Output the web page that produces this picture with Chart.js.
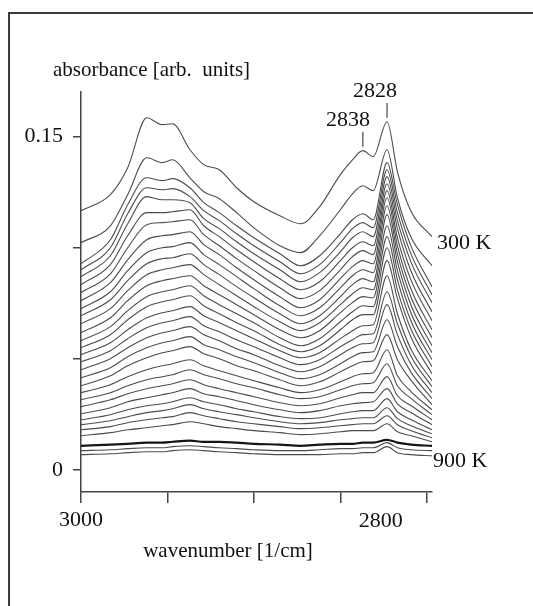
<!DOCTYPE html>
<html lang="en">
<head>
<meta charset="UTF-8">
<title>Absorbance spectra 300 K - 900 K</title>
<script src="https://cdn.jsdelivr.net/npm/chart.js"></script>
<style>
    body {
        margin: 0;
        background: #fff;
    }
    #wrap {
        position: relative;
        width: 533px;
        height: 606px;
    }
    canvas {
        display: block;
    }
</style>
</head>
<body>
<div id="wrap"><canvas id="spectra" width="533" height="606"></canvas></div>

<script>
    // wavenumber sample points [1/cm]
    const wavenumbers = [3000, 2983, 2973, 2962, 2953, 2947, 2937, 2929, 2920, 2910, 2900,
        2885, 2873, 2862, 2850, 2843, 2837, 2831, 2823, 2817, 2809, 2797];

    // absorbance of each spectrum, top (300 K) to bottom (900 K)
    const curve01 = [0.1166, 0.1238, 0.1359, 0.1584, 0.1553, 0.1557, 0.1440, 0.1373, 0.1350, 0.1269, 0.1206, 0.1143, 0.1107, 0.1184, 0.1328, 0.1395, 0.1436, 0.1409, 0.1566, 0.1341, 0.1161, 0.1049];
    const curve02 = [0.1022, 0.1098, 0.1238, 0.1404, 0.1382, 0.1395, 0.1314, 0.1251, 0.1220, 0.1157, 0.1089, 0.1008, 0.0977, 0.1053, 0.1170, 0.1242, 0.1278, 0.1256, 0.1440, 0.1224, 0.1044, 0.0918];
    const curve03 = [0.0927, 0.1035, 0.1193, 0.1314, 0.1301, 0.1310, 0.1269, 0.1202, 0.1157, 0.1098, 0.1044, 0.0972, 0.0918, 0.0963, 0.1062, 0.1125, 0.1152, 0.1125, 0.1382, 0.1193, 0.1004, 0.0824];
    const curve04 = [0.0900, 0.0999, 0.1152, 0.1269, 0.1260, 0.1265, 0.1229, 0.1166, 0.1121, 0.1062, 0.1008, 0.0936, 0.0882, 0.0923, 0.1022, 0.1085, 0.1112, 0.1089, 0.1350, 0.1157, 0.0968, 0.0788];
    const curve05 = [0.0869, 0.0963, 0.1107, 0.1229, 0.1215, 0.1215, 0.1202, 0.1130, 0.1085, 0.1026, 0.0972, 0.0900, 0.0846, 0.0887, 0.0981, 0.1044, 0.1071, 0.1049, 0.1319, 0.1121, 0.0932, 0.0752];
    const curve06 = [0.0833, 0.0923, 0.1053, 0.1157, 0.1157, 0.1161, 0.1170, 0.1098, 0.1049, 0.0990, 0.0936, 0.0860, 0.0810, 0.0846, 0.0941, 0.0999, 0.1026, 0.1008, 0.1287, 0.1085, 0.0891, 0.0711];
    const curve07 = [0.0797, 0.0882, 0.0999, 0.1103, 0.1112, 0.1116, 0.1125, 0.1058, 0.1008, 0.0950, 0.0896, 0.0819, 0.0770, 0.0806, 0.0900, 0.0959, 0.0986, 0.0968, 0.1256, 0.1044, 0.0851, 0.0671];
    const curve08 = [0.0761, 0.0842, 0.0945, 0.1035, 0.1053, 0.1058, 0.1071, 0.1013, 0.0968, 0.0909, 0.0855, 0.0779, 0.0729, 0.0765, 0.0860, 0.0914, 0.0941, 0.0927, 0.1224, 0.1008, 0.0810, 0.0630];
    const curve09 = [0.0725, 0.0801, 0.0896, 0.0977, 0.0999, 0.1004, 0.1022, 0.0968, 0.0923, 0.0869, 0.0815, 0.0738, 0.0693, 0.0729, 0.0819, 0.0873, 0.0900, 0.0887, 0.1188, 0.0972, 0.0774, 0.0594];
    const curve10 = [0.0693, 0.0765, 0.0851, 0.0927, 0.0950, 0.0954, 0.0972, 0.0923, 0.0878, 0.0824, 0.0774, 0.0702, 0.0657, 0.0693, 0.0779, 0.0833, 0.0860, 0.0846, 0.1148, 0.0936, 0.0738, 0.0558];
    const curve11 = [0.0657, 0.0725, 0.0806, 0.0878, 0.0900, 0.0909, 0.0923, 0.0878, 0.0833, 0.0783, 0.0734, 0.0666, 0.0626, 0.0662, 0.0743, 0.0792, 0.0819, 0.0810, 0.1098, 0.0896, 0.0702, 0.0527];
    const curve12 = [0.0617, 0.0684, 0.0761, 0.0828, 0.0851, 0.0860, 0.0873, 0.0828, 0.0788, 0.0743, 0.0698, 0.0630, 0.0594, 0.0626, 0.0707, 0.0752, 0.0779, 0.0774, 0.1049, 0.0855, 0.0666, 0.0495];
    const curve13 = [0.0581, 0.0644, 0.0716, 0.0779, 0.0801, 0.0810, 0.0828, 0.0783, 0.0743, 0.0702, 0.0662, 0.0594, 0.0558, 0.0590, 0.0666, 0.0711, 0.0738, 0.0734, 0.0999, 0.0810, 0.0630, 0.0464];
    const curve14 = [0.0549, 0.0608, 0.0675, 0.0734, 0.0756, 0.0765, 0.0783, 0.0738, 0.0702, 0.0662, 0.0626, 0.0563, 0.0531, 0.0558, 0.0630, 0.0675, 0.0698, 0.0698, 0.0941, 0.0770, 0.0594, 0.0432];
    const curve15 = [0.0518, 0.0572, 0.0630, 0.0684, 0.0707, 0.0716, 0.0734, 0.0693, 0.0662, 0.0626, 0.0590, 0.0536, 0.0504, 0.0527, 0.0590, 0.0626, 0.0648, 0.0653, 0.0873, 0.0702, 0.0540, 0.0401];
    const curve16 = [0.0486, 0.0536, 0.0590, 0.0639, 0.0662, 0.0671, 0.0689, 0.0648, 0.0621, 0.0585, 0.0554, 0.0504, 0.0473, 0.0495, 0.0554, 0.0585, 0.0608, 0.0612, 0.0801, 0.0657, 0.0509, 0.0374];
    const curve17 = [0.0450, 0.0500, 0.0549, 0.0594, 0.0617, 0.0626, 0.0644, 0.0608, 0.0581, 0.0545, 0.0518, 0.0468, 0.0441, 0.0464, 0.0518, 0.0549, 0.0567, 0.0572, 0.0743, 0.0608, 0.0473, 0.0347];
    const curve18 = [0.0414, 0.0459, 0.0509, 0.0549, 0.0572, 0.0581, 0.0599, 0.0563, 0.0540, 0.0509, 0.0482, 0.0437, 0.0410, 0.0428, 0.0477, 0.0509, 0.0527, 0.0531, 0.0675, 0.0554, 0.0437, 0.0320];
    const curve19 = [0.0378, 0.0423, 0.0468, 0.0504, 0.0527, 0.0536, 0.0554, 0.0522, 0.0500, 0.0468, 0.0446, 0.0405, 0.0378, 0.0396, 0.0441, 0.0468, 0.0486, 0.0491, 0.0608, 0.0495, 0.0401, 0.0293];
    const curve20 = [0.0347, 0.0383, 0.0419, 0.0450, 0.0468, 0.0477, 0.0495, 0.0468, 0.0446, 0.0423, 0.0401, 0.0369, 0.0347, 0.0360, 0.0396, 0.0419, 0.0432, 0.0437, 0.0540, 0.0423, 0.0351, 0.0270];
    const curve21 = [0.0315, 0.0347, 0.0378, 0.0405, 0.0419, 0.0428, 0.0450, 0.0428, 0.0410, 0.0387, 0.0369, 0.0338, 0.0320, 0.0329, 0.0360, 0.0378, 0.0387, 0.0392, 0.0477, 0.0378, 0.0320, 0.0248];
    const curve22 = [0.0284, 0.0315, 0.0342, 0.0365, 0.0378, 0.0387, 0.0405, 0.0383, 0.0365, 0.0347, 0.0329, 0.0302, 0.0288, 0.0297, 0.0324, 0.0338, 0.0347, 0.0347, 0.0419, 0.0333, 0.0288, 0.0225];
    const curve23 = [0.0252, 0.0279, 0.0306, 0.0324, 0.0338, 0.0347, 0.0365, 0.0342, 0.0329, 0.0311, 0.0293, 0.0270, 0.0257, 0.0266, 0.0288, 0.0297, 0.0302, 0.0306, 0.0365, 0.0297, 0.0257, 0.0203];
    const curve24 = [0.0225, 0.0248, 0.0270, 0.0288, 0.0297, 0.0306, 0.0324, 0.0306, 0.0293, 0.0275, 0.0261, 0.0239, 0.0230, 0.0234, 0.0252, 0.0261, 0.0266, 0.0266, 0.0320, 0.0261, 0.0225, 0.0180];
    const curve25 = [0.0203, 0.0221, 0.0239, 0.0257, 0.0266, 0.0275, 0.0293, 0.0275, 0.0261, 0.0248, 0.0234, 0.0216, 0.0207, 0.0212, 0.0225, 0.0230, 0.0234, 0.0234, 0.0279, 0.0230, 0.0198, 0.0162];
    const curve26 = [0.0180, 0.0194, 0.0212, 0.0225, 0.0234, 0.0239, 0.0257, 0.0243, 0.0230, 0.0216, 0.0207, 0.0194, 0.0185, 0.0189, 0.0198, 0.0203, 0.0207, 0.0207, 0.0243, 0.0203, 0.0176, 0.0144];
    const curve27 = [0.0153, 0.0167, 0.0180, 0.0189, 0.0198, 0.0203, 0.0216, 0.0207, 0.0194, 0.0185, 0.0176, 0.0167, 0.0158, 0.0162, 0.0171, 0.0176, 0.0176, 0.0176, 0.0207, 0.0171, 0.0153, 0.0126];
    const curve28 = [0.0108, 0.0113, 0.0117, 0.0122, 0.0122, 0.0126, 0.0131, 0.0126, 0.0126, 0.0122, 0.0117, 0.0113, 0.0108, 0.0113, 0.0117, 0.0117, 0.0122, 0.0122, 0.0135, 0.0122, 0.0113, 0.0108];
    const curve29 = [0.0086, 0.0090, 0.0095, 0.0099, 0.0099, 0.0104, 0.0108, 0.0104, 0.0099, 0.0095, 0.0090, 0.0086, 0.0086, 0.0090, 0.0095, 0.0095, 0.0099, 0.0099, 0.0122, 0.0099, 0.0090, 0.0086];
    const curve30 = [0.0068, 0.0072, 0.0077, 0.0081, 0.0081, 0.0086, 0.0090, 0.0086, 0.0081, 0.0077, 0.0072, 0.0068, 0.0068, 0.0068, 0.0072, 0.0072, 0.0077, 0.0077, 0.0104, 0.0077, 0.0068, 0.0063];

    const curves = [curve01, curve02, curve03, curve04, curve05, curve06, curve07, curve08, curve09, curve10,
        curve11, curve12, curve13, curve14, curve15, curve16, curve17, curve18, curve19, curve20,
        curve21, curve22, curve23, curve24, curve25, curve26, curve27, curve28, curve29, curve30];

    const xTicks = [3000, 2950, 2900, 2850, 2800];
    const yTicks = [0, 0.05, 0.10, 0.15];
    const thickCurve = 27;   // the darker line near the bottom

    // peak labels on the 300 K spectrum
    const peakMarks = [
        { label: '2828', wn: 2823, textX: 375, textY: 91 },
        { label: '2838', wn: 2837, textX: 348, textY: 120 }
    ];

    Chart.defaults.font.family = '"Liberation Serif", "Times New Roman", serif';
    Chart.defaults.color = '#111';

    const datasets = curves.map((c, i) => ({
        data: c.map((v, j) => ({ x: wavenumbers[j], y: v })),
        borderColor: i === thickCurve ? '#151515' : '#4c4c4c',
        borderWidth: i === thickCurve ? 2.2 : 1.1,
        pointRadius: 0,
        fill: false,
        cubicInterpolationMode: 'monotone'
    }));

    const textLayer = {
        id: 'textLayer',
        afterDraw(chart) {
            const { ctx, scales: { x, y } } = chart;
            ctx.save();

            // outer frame (top and left edges only)
            ctx.strokeStyle = '#3a3a3a';
            ctx.lineWidth = 2;
            ctx.beginPath();
            ctx.moveTo(9, 606);
            ctx.lineTo(9, 13);
            ctx.lineTo(533, 13);
            ctx.stroke();

            ctx.fillStyle = '#111';
            ctx.font = '21px "Liberation Serif"';
            ctx.textBaseline = 'alphabetic';
            ctx.textAlign = 'left';
            ctx.fillText('absorbance [arb.  units]', 53, 76);
            ctx.textAlign = 'center';
            ctx.fillText('wavenumber [1/cm]', 228, 557);

            ctx.font = '22px "Liberation Serif"';
            ctx.textBaseline = 'middle';
            ctx.fillText('2800', x.getPixelForValue(2800) - 46, 521);

            ctx.textAlign = 'left';
            ctx.fillText('300 K', 437, 243);
            ctx.fillText('900 K', 433, 461);

            // peak markers
            ctx.textAlign = 'center';
            ctx.strokeStyle = '#444';
            ctx.lineWidth = 1.2;
            peakMarks.forEach(p => {
                ctx.fillText(p.label, p.textX, p.textY);
                const px = x.getPixelForValue(p.wn);
                const top = y.getPixelForValue(curve01[wavenumbers.indexOf(p.wn)]);
                ctx.beginPath();
                ctx.moveTo(px, p.textY + 12);
                ctx.lineTo(px, top - 4);
                ctx.stroke();
            });
            ctx.restore();
        }
    };

    new Chart(document.getElementById('spectra'), {
        type: 'line',
        data: { datasets: datasets },
        options: {
            responsive: false,
            animation: false,
            devicePixelRatio: 1,
            layout: { padding: { top: 92, right: 101, left: 0, bottom: 0 } },
            plugins: {
                legend: { display: false },
                tooltip: { enabled: false }
            },
            scales: {
                x: {
                    type: 'linear',
                    reverse: true,
                    min: 2797,
                    max: 3000,
                    afterBuildTicks: s => { s.ticks = xTicks.map(v => ({ value: v })); },
                    afterFit: s => { s.height = 114; },
                    grid: { drawOnChartArea: false, drawTicks: true, tickLength: 11, color: '#444', lineWidth: 1.5 },
                    border: { display: true, color: '#444', width: 1.5 },
                    ticks: {
                        autoSkip: false,
                        maxRotation: 0,
                        padding: 4,
                        font: { size: 22 },
                        callback: v => (v === 3000 ? '3000' : '')
                    }
                },
                y: {
                    type: 'linear',
                    min: -0.01,
                    max: 0.17,
                    afterBuildTicks: s => { s.ticks = yTicks.map(v => ({ value: v })); },
                    afterFit: s => { s.width = 81; },
                    grid: { drawOnChartArea: false, drawTicks: true, tickLength: 8, color: '#444', lineWidth: 1.5 },
                    border: { display: true, color: '#444', width: 1.5 },
                    ticks: {
                        padding: 10,
                        font: { size: 22 },
                        callback: v => (v === 0 ? '0' : (v === 0.15 ? '0.15' : ''))
                    }
                }
            }
        },
        plugins: [textLayer]
    });
</script>
</body>
</html>
